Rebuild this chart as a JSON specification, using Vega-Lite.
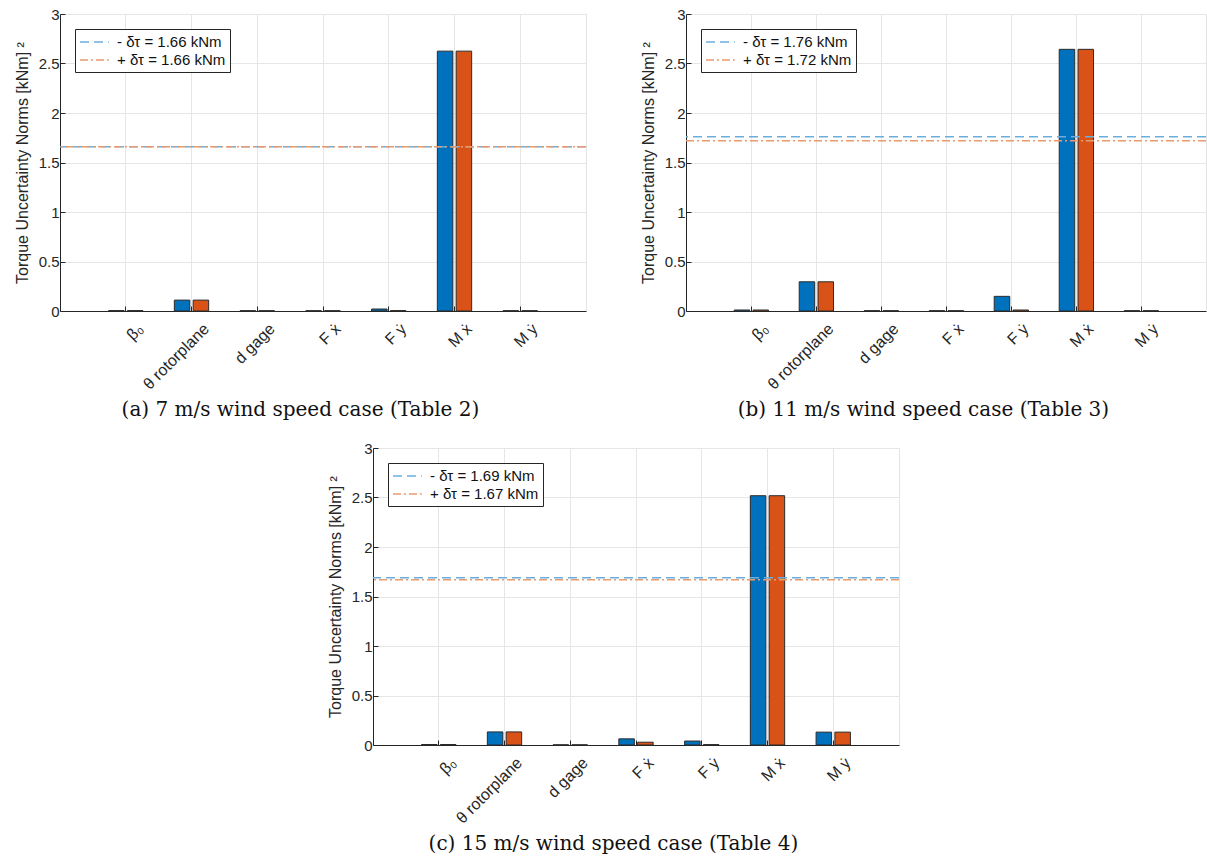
{
  "$schema": "https://vega.github.io/schema/vega-lite/v6.json",
  "background": "white",
  "padding": {"left": 13, "top": 6, "right": 0, "bottom": 0},
  "config": {
    "font": "Liberation Sans",
    "view": {"stroke": "#e3e3e3"},
    "axis": {
      "labelFont": "Liberation Sans", "labelFontSize": 15, "labelColor": "#262626",
      "titleFont": "Liberation Sans", "titleFontSize": 16, "titleFontWeight": "normal", "titleColor": "#262626",
      "domainColor": "#262626", "tickColor": "#262626", "gridColor": "#e6e6e6", "tickSize": -5
    },
    "title": {"font": "DejaVu Serif", "fontSize": 20, "fontWeight": "normal", "orient": "bottom", "frame": "bounds", "anchor": "middle", "color": "#111111", "offset": 8},
    "legend": {
      "orient": "top-left", "offset": 15, "strokeColor": "#262626", "fillColor": "white", "padding": 4,
      "symbolType": "M-1,0H2.6", "symbolSize": 256, "symbolStrokeWidth": 1.5, "labelFont": "Liberation Sans",
      "labelFontSize": 15, "labelColor": "#111111", "rowPadding": 1, "labelOffset": 20, "cornerRadius": 0
    }
  },
  "datasets": {
    "a_bars": [
      {"component": "β₀", "series": "minus", "norm": 0.004}, {"component": "β₀", "series": "plus", "norm": 0.004},
      {"component": "θ rotorplane", "series": "minus", "norm": 0.11}, {"component": "θ rotorplane", "series": "plus", "norm": 0.11},
      {"component": "d gage", "series": "minus", "norm": 0.003}, {"component": "d gage", "series": "plus", "norm": 0.003},
      {"component": "F ẋ", "series": "minus", "norm": 0.003}, {"component": "F ẋ", "series": "plus", "norm": 0.003},
      {"component": "F ẏ", "series": "minus", "norm": 0.02}, {"component": "F ẏ", "series": "plus", "norm": 0.004},
      {"component": "M ẋ", "series": "minus", "norm": 2.625}, {"component": "M ẋ", "series": "plus", "norm": 2.625},
      {"component": "M ẏ", "series": "minus", "norm": 0.003}, {"component": "M ẏ", "series": "plus", "norm": 0.003}
    ],
    "a_lines": [
      {"label": "- δτ = 1.66 kNm", "norm": 1.66},
      {"label": "+ δτ = 1.66 kNm", "norm": 1.66}
    ],
    "b_bars": [
      {"component": "β₀", "series": "minus", "norm": 0.01}, {"component": "β₀", "series": "plus", "norm": 0.01},
      {"component": "θ rotorplane", "series": "minus", "norm": 0.295}, {"component": "θ rotorplane", "series": "plus", "norm": 0.295},
      {"component": "d gage", "series": "minus", "norm": 0.003}, {"component": "d gage", "series": "plus", "norm": 0.003},
      {"component": "F ẋ", "series": "minus", "norm": 0.003}, {"component": "F ẋ", "series": "plus", "norm": 0.003},
      {"component": "F ẏ", "series": "minus", "norm": 0.148}, {"component": "F ẏ", "series": "plus", "norm": 0.01},
      {"component": "M ẋ", "series": "minus", "norm": 2.643}, {"component": "M ẋ", "series": "plus", "norm": 2.643},
      {"component": "M ẏ", "series": "minus", "norm": 0.003}, {"component": "M ẏ", "series": "plus", "norm": 0.003}
    ],
    "b_lines": [
      {"label": "- δτ = 1.76 kNm", "norm": 1.76},
      {"label": "+ δτ = 1.72 kNm", "norm": 1.72}
    ],
    "c_bars": [
      {"component": "β₀", "series": "minus", "norm": 0.005}, {"component": "β₀", "series": "plus", "norm": 0.005},
      {"component": "θ rotorplane", "series": "minus", "norm": 0.132}, {"component": "θ rotorplane", "series": "plus", "norm": 0.132},
      {"component": "d gage", "series": "minus", "norm": 0.002}, {"component": "d gage", "series": "plus", "norm": 0.002},
      {"component": "F ẋ", "series": "minus", "norm": 0.062}, {"component": "F ẋ", "series": "plus", "norm": 0.028},
      {"component": "F ẏ", "series": "minus", "norm": 0.04}, {"component": "F ẏ", "series": "plus", "norm": 0.004},
      {"component": "M ẋ", "series": "minus", "norm": 2.518}, {"component": "M ẋ", "series": "plus", "norm": 2.518},
      {"component": "M ẏ", "series": "minus", "norm": 0.13}, {"component": "M ẏ", "series": "plus", "norm": 0.13}
    ],
    "c_lines": [
      {"label": "- δτ = 1.69 kNm", "norm": 1.69},
      {"label": "+ δτ = 1.67 kNm", "norm": 1.67}
    ]
  },
  "spacing": 19,
  "resolve": {"scale": {"stroke": "independent", "strokeDash": "independent", "fill": "independent", "x": "independent", "y": "independent"}, "legend": {"stroke": "independent", "strokeDash": "independent"}},
  "vconcat": [
    {
      "spacing": 51,
      "resolve": {"scale": {"stroke": "independent", "strokeDash": "independent", "fill": "independent", "x": "independent", "y": "independent"}, "legend": {"stroke": "independent", "strokeDash": "independent"}},
      "hconcat": [
        {
          "width": 526, "height": 297,
          "title": {"text": "(a) 7 m/s wind speed case (Table 2)"},
          "layer": [
            {
              "data": {"name": "a_bars"},
              "mark": {"type": "bar", "stroke": "#2b2b2b", "strokeWidth": 1},
              "encoding": {
                "x": {"field": "component", "type": "nominal", "sort": null, "scale": {"paddingInner": 0, "paddingOuter": 0.5},
                      "axis": {"title": null, "grid": true, "bandPosition": 0.5, "labelAngle": -45, "labelAlign": "right", "labelBaseline": "middle", "labelOffset": 15, "labelPadding": 20, "labelFontSize": 16}},
                "xOffset": {"field": "series", "type": "nominal", "scale": {"paddingInner": 0.175, "paddingOuter": 0.835}},
                "y": {"field": "norm", "type": "quantitative", "scale": {"domain": [0, 3], "nice": false},
                      "axis": {"title": "Torque Uncertainty Norms [kNm] ²", "values": [0, 0.5, 1, 1.5, 2, 2.5, 3], "format": "~g", "grid": true, "labelPadding": 6, "titlePadding": 8}},
                "fill": {"field": "series", "type": "nominal", "scale": {"domain": ["minus", "plus"], "range": ["#0072BD", "#D95319"]}, "legend": null}
              }
            },
            {
              "data": {"name": "a_lines"},
              "mark": {"type": "rule", "strokeWidth": 1.5},
              "encoding": {
                "y": {"field": "norm", "type": "quantitative"},
                "stroke": {"field": "label", "type": "nominal", "sort": null, "scale": {"range": ["#6aaede", "#e99a6e"]}, "legend": {"title": null}},
                "strokeDash": {"field": "label", "type": "nominal", "sort": null, "scale": {"range": [[9, 5], [8, 3, 2, 3]]}, "legend": {"title": null}}
              }
            }
          ]
        },
        {
          "width": 520, "height": 297,
          "title": {"text": "(b) 11 m/s wind speed case (Table 3)"},
          "layer": [
            {
              "data": {"name": "b_bars"},
              "mark": {"type": "bar", "stroke": "#2b2b2b", "strokeWidth": 1},
              "encoding": {
                "x": {"field": "component", "type": "nominal", "sort": null, "scale": {"paddingInner": 0, "paddingOuter": 0.5},
                      "axis": {"title": null, "grid": true, "bandPosition": 0.5, "labelAngle": -45, "labelAlign": "right", "labelBaseline": "middle", "labelOffset": 15, "labelPadding": 20, "labelFontSize": 16}},
                "xOffset": {"field": "series", "type": "nominal", "scale": {"paddingInner": 0.175, "paddingOuter": 0.835}},
                "y": {"field": "norm", "type": "quantitative", "scale": {"domain": [0, 3], "nice": false},
                      "axis": {"title": "Torque Uncertainty Norms [kNm] ²", "values": [0, 0.5, 1, 1.5, 2, 2.5, 3], "format": "~g", "grid": true, "labelPadding": 6, "titlePadding": 8}},
                "fill": {"field": "series", "type": "nominal", "scale": {"domain": ["minus", "plus"], "range": ["#0072BD", "#D95319"]}, "legend": null}
              }
            },
            {
              "data": {"name": "b_lines"},
              "mark": {"type": "rule", "strokeWidth": 1.5},
              "encoding": {
                "y": {"field": "norm", "type": "quantitative"},
                "stroke": {"field": "label", "type": "nominal", "sort": null, "scale": {"range": ["#6aaede", "#e99a6e"]}, "legend": {"title": null}},
                "strokeDash": {"field": "label", "type": "nominal", "sort": null, "scale": {"range": [[9, 5], [8, 3, 2, 3]]}, "legend": {"title": null}}
              }
            }
          ]
        }
      ]
    },
    {
      "spacing": 12,
      "resolve": {"scale": {"stroke": "independent", "strokeDash": "independent", "fill": "independent", "x": "independent", "y": "independent"}, "legend": {"stroke": "independent", "strokeDash": "independent"}},
      "hconcat": [
        {
          "width": 254, "height": 297,
          "data": {"values": []},
          "mark": {"type": "point"},
          "encoding": {},
          "view": {"stroke": null}
        },
        {
          "width": 526, "height": 297,
          "title": {"text": "(c) 15 m/s wind speed case (Table 4)"},
          "layer": [
            {
              "data": {"name": "c_bars"},
              "mark": {"type": "bar", "stroke": "#2b2b2b", "strokeWidth": 1},
              "encoding": {
                "x": {"field": "component", "type": "nominal", "sort": null, "scale": {"paddingInner": 0, "paddingOuter": 0.5},
                      "axis": {"title": null, "grid": true, "bandPosition": 0.5, "labelAngle": -45, "labelAlign": "right", "labelBaseline": "middle", "labelOffset": 15, "labelPadding": 20, "labelFontSize": 16}},
                "xOffset": {"field": "series", "type": "nominal", "scale": {"paddingInner": 0.175, "paddingOuter": 0.835}},
                "y": {"field": "norm", "type": "quantitative", "scale": {"domain": [0, 3], "nice": false},
                      "axis": {"title": "Torque Uncertainty Norms [kNm] ²", "values": [0, 0.5, 1, 1.5, 2, 2.5, 3], "format": "~g", "grid": true, "labelPadding": 6, "titlePadding": 8}},
                "fill": {"field": "series", "type": "nominal", "scale": {"domain": ["minus", "plus"], "range": ["#0072BD", "#D95319"]}, "legend": null}
              }
            },
            {
              "data": {"name": "c_lines"},
              "mark": {"type": "rule", "strokeWidth": 1.5},
              "encoding": {
                "y": {"field": "norm", "type": "quantitative"},
                "stroke": {"field": "label", "type": "nominal", "sort": null, "scale": {"range": ["#6aaede", "#e99a6e"]}, "legend": {"title": null}},
                "strokeDash": {"field": "label", "type": "nominal", "sort": null, "scale": {"range": [[9, 5], [8, 3, 2, 3]]}, "legend": {"title": null}}
              }
            }
          ]
        }
      ]
    }
  ]
}
